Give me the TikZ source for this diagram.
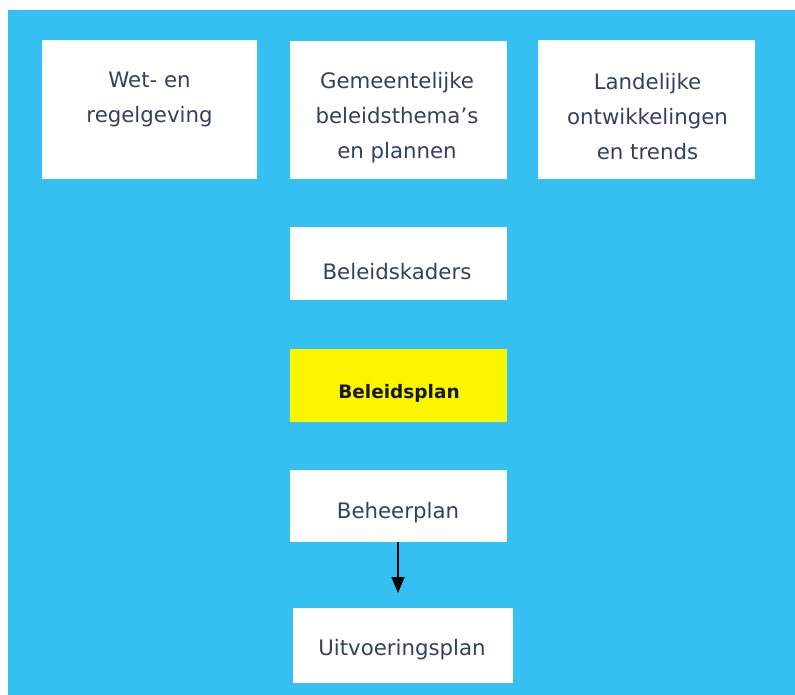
\documentclass[tikz,border=0pt]{standalone}
\usepackage{fontspec}
\setmainfont{DejaVu Sans}
\usetikzlibrary{arrows.meta}
\definecolor{skyblue}{RGB}{53,192,242}
\definecolor{txtblue}{RGB}{52,64,96}
\definecolor{hiyellow}{RGB}{250,245,0}
\tikzset{
  whitebox/.style={rectangle, fill=white, draw=none, inner sep=0pt},
  yellowbox/.style={rectangle, fill=hiyellow, draw=none, inner sep=0pt},
  lbl/.style={align=center, text=txtblue, font=\fontsize{21.3bp}{35bp}\selectfont, inner sep=0pt},
  boldlbl/.style={text=black!90, font=\fontsize{18.5bp}{22bp}\selectfont\bfseries, inner sep=0pt},
  flowarrow/.style={-{Triangle[width=13bp,length=16bp]}, line width=1.6bp, black}
}
\begin{document}
\begin{tikzpicture}[x=1bp,y=-1bp]
\useasboundingbox (0,0) rectangle (795,695);
\fill[white] (0,0) rectangle (795,695);
\fill[skyblue] (8,10) rectangle (795,695);
% boxes
\node[whitebox, minimum width=215bp, minimum height=139bp] (wet) at (149.5,109.5) {};
\node[whitebox, minimum width=217bp, minimum height=138bp] (gem) at (398.5,110) {};
\node[whitebox, minimum width=217bp, minimum height=139bp] (land) at (646.5,109.5) {};
\node[whitebox, minimum width=217bp, minimum height=73bp] (kader) at (398.5,263.5) {};
\node[yellowbox, minimum width=217bp, minimum height=73bp] (plan) at (398.5,385.5) {};
\node[whitebox, minimum width=217bp, minimum height=72bp] (beheer) at (398.5,506) {};
\node[whitebox, minimum width=220bp, minimum height=75bp] (uitv) at (403,645.5) {};
% labels
\node[lbl] (wetlbl) at (149.5,99.5) {Wet- en\\regelgeving};
\node[lbl] (gemlbl) at (397,117.5) {Gemeentelijke\\beleidsthema’s\\en plannen};
\node[lbl] (landlbl) at (647.5,117) {Landelijke\\ontwikkelingen\\en trends};
\node[lbl] (kaderlbl) at (397,272) {Beleidskaders};
\node[boldlbl] (planlbl) at (399,393) {Beleidsplan};
\node[lbl] (beheerlbl) at (398,513) {Beheerplan};
\node[lbl] (uitvlbl) at (402,650) {Uitvoeringsplan};
% arrow
\coordinate (arrowend) at (398,593);
\draw[flowarrow] (arrowend |- beheer.south) -- (arrowend);
\end{tikzpicture}
\end{document}
